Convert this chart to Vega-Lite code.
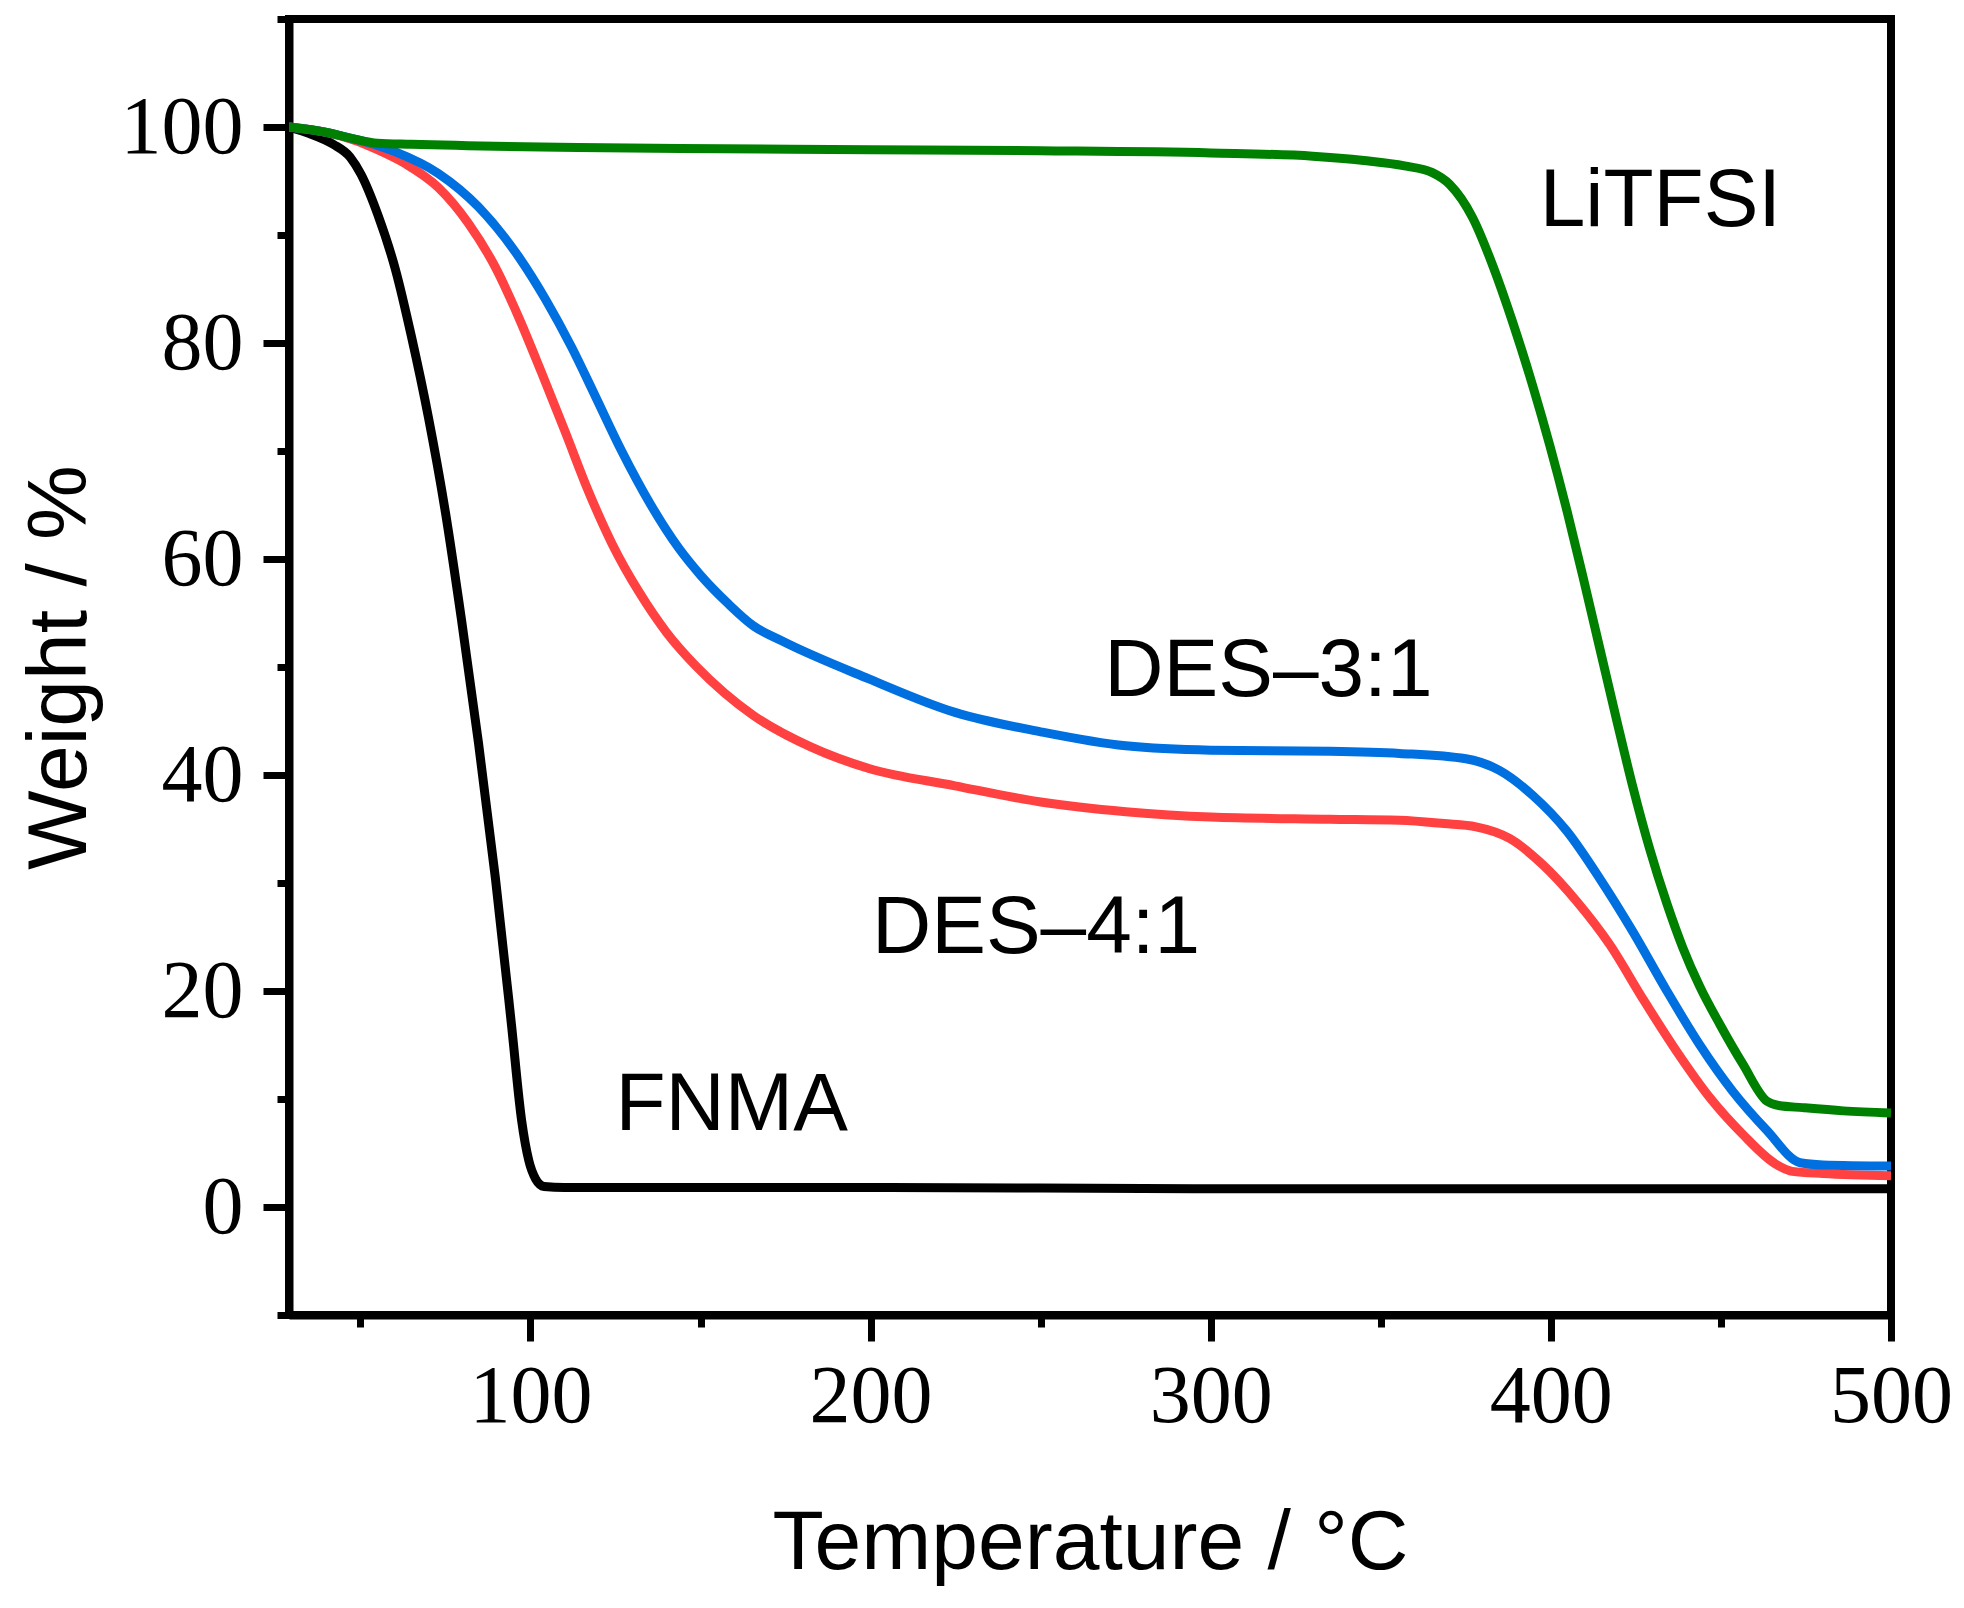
{
  "$schema": "https://vega.github.io/schema/vega-lite/v6.json",
  "width": 1602,
  "height": 1296,
  "autosize": {"type": "none"},
  "padding": {"left": 289, "top": 19, "right": 73, "bottom": 293},
  "background": "white",
  "config": {
    "view": {"stroke": "black", "strokeWidth": 8},
    "axis": {
      "grid": false,
      "domainColor": "black",
      "domainWidth": 8,
      "tickColor": "black",
      "tickWidth": 7,
      "labelFont": "Liberation Serif",
      "labelFontSize": 82,
      "labelColor": "black",
      "titleFont": "Liberation Sans",
      "titleFontSize": 84,
      "titleFontWeight": "normal",
      "titleColor": "black"
    }
  },
  "datasets": {
    "curves": [
      {"series": "FNMA", "T": 29, "W": 100},
      {"series": "FNMA", "T": 35, "W": 99.4},
      {"series": "FNMA", "T": 42, "W": 98.4},
      {"series": "FNMA", "T": 47, "W": 97.2},
      {"series": "FNMA", "T": 50.2, "W": 95.6},
      {"series": "FNMA", "T": 55.2, "W": 91.8},
      {"series": "FNMA", "T": 60.3, "W": 86.8},
      {"series": "FNMA", "T": 65, "W": 80.6},
      {"series": "FNMA", "T": 70, "W": 73.1},
      {"series": "FNMA", "T": 75, "W": 64.3},
      {"series": "FNMA", "T": 79.7, "W": 54.4},
      {"series": "FNMA", "T": 84.7, "W": 43.0},
      {"series": "FNMA", "T": 89.7, "W": 30.4},
      {"series": "FNMA", "T": 94.4, "W": 16.9},
      {"series": "FNMA", "T": 97.4, "W": 8.0},
      {"series": "FNMA", "T": 99.5, "W": 4.3},
      {"series": "FNMA", "T": 101.5, "W": 2.6},
      {"series": "FNMA", "T": 104, "W": 1.9},
      {"series": "FNMA", "T": 110, "W": 1.8},
      {"series": "FNMA", "T": 200, "W": 1.8},
      {"series": "FNMA", "T": 300, "W": 1.7},
      {"series": "FNMA", "T": 400, "W": 1.7},
      {"series": "FNMA", "T": 500, "W": 1.7},

      {"series": "DES-4:1", "T": 29, "W": 100},
      {"series": "DES-4:1", "T": 40, "W": 99.5},
      {"series": "DES-4:1", "T": 48, "W": 98.8},
      {"series": "DES-4:1", "T": 55, "W": 97.9},
      {"series": "DES-4:1", "T": 63.2, "W": 96.6},
      {"series": "DES-4:1", "T": 72.9, "W": 94.4},
      {"series": "DES-4:1", "T": 81.7, "W": 91.1},
      {"series": "DES-4:1", "T": 89.7, "W": 87},
      {"series": "DES-4:1", "T": 96.5, "W": 82.4},
      {"series": "DES-4:1", "T": 103.2, "W": 77.3},
      {"series": "DES-4:1", "T": 110.3, "W": 71.7},
      {"series": "DES-4:1", "T": 117, "W": 66.3},
      {"series": "DES-4:1", "T": 124, "W": 61.4},
      {"series": "DES-4:1", "T": 132, "W": 56.9},
      {"series": "DES-4:1", "T": 140, "W": 53.2},
      {"series": "DES-4:1", "T": 148.6, "W": 50.1},
      {"series": "DES-4:1", "T": 157, "W": 47.6},
      {"series": "DES-4:1", "T": 165.6, "W": 45.5},
      {"series": "DES-4:1", "T": 182.4, "W": 42.6},
      {"series": "DES-4:1", "T": 199.5, "W": 40.6},
      {"series": "DES-4:1", "T": 224.8, "W": 39},
      {"series": "DES-4:1", "T": 250, "W": 37.5},
      {"series": "DES-4:1", "T": 275, "W": 36.6},
      {"series": "DES-4:1", "T": 300, "W": 36.1},
      {"series": "DES-4:1", "T": 335, "W": 35.9},
      {"series": "DES-4:1", "T": 355.5, "W": 35.8},
      {"series": "DES-4:1", "T": 368.5, "W": 35.5},
      {"series": "DES-4:1", "T": 378, "W": 35.2},
      {"series": "DES-4:1", "T": 388, "W": 34.1},
      {"series": "DES-4:1", "T": 397.6, "W": 31.7},
      {"series": "DES-4:1", "T": 407.6, "W": 28.3},
      {"series": "DES-4:1", "T": 417.3, "W": 24.3},
      {"series": "DES-4:1", "T": 427, "W": 19.3},
      {"series": "DES-4:1", "T": 437, "W": 14.4},
      {"series": "DES-4:1", "T": 446.8, "W": 10.1},
      {"series": "DES-4:1", "T": 456.5, "W": 6.7},
      {"series": "DES-4:1", "T": 466, "W": 4.0},
      {"series": "DES-4:1", "T": 471, "W": 3.3},
      {"series": "DES-4:1", "T": 480, "W": 3.1},
      {"series": "DES-4:1", "T": 500, "W": 2.9},

      {"series": "DES-3:1", "T": 29, "W": 100},
      {"series": "DES-3:1", "T": 40, "W": 99.5},
      {"series": "DES-3:1", "T": 48, "W": 98.9},
      {"series": "DES-3:1", "T": 55, "W": 98.3},
      {"series": "DES-3:1", "T": 60.3, "W": 97.7},
      {"series": "DES-3:1", "T": 72.9, "W": 95.7},
      {"series": "DES-3:1", "T": 84.7, "W": 92.6},
      {"series": "DES-3:1", "T": 96.5, "W": 88},
      {"series": "DES-3:1", "T": 104.4, "W": 84.05},
      {"series": "DES-3:1", "T": 112.1, "W": 79.6},
      {"series": "DES-3:1", "T": 119.1, "W": 75.05},
      {"series": "DES-3:1", "T": 126.8, "W": 70.0},
      {"series": "DES-3:1", "T": 135.4, "W": 65.0},
      {"series": "DES-3:1", "T": 143.6, "W": 61.0},
      {"series": "DES-3:1", "T": 150, "W": 58.5},
      {"series": "DES-3:1", "T": 158, "W": 55.9},
      {"series": "DES-3:1", "T": 165.6, "W": 53.8},
      {"series": "DES-3:1", "T": 174, "W": 52.4},
      {"series": "DES-3:1", "T": 199.5, "W": 48.9},
      {"series": "DES-3:1", "T": 224.8, "W": 45.8},
      {"series": "DES-3:1", "T": 250, "W": 44},
      {"series": "DES-3:1", "T": 275, "W": 42.7},
      {"series": "DES-3:1", "T": 300, "W": 42.3},
      {"series": "DES-3:1", "T": 335, "W": 42.2},
      {"series": "DES-3:1", "T": 355.5, "W": 42},
      {"series": "DES-3:1", "T": 375, "W": 41.5},
      {"series": "DES-3:1", "T": 385, "W": 40.4},
      {"series": "DES-3:1", "T": 394.7, "W": 38.1},
      {"series": "DES-3:1", "T": 404.7, "W": 34.8},
      {"series": "DES-3:1", "T": 414.4, "W": 30.4},
      {"series": "DES-3:1", "T": 424.1, "W": 25.5},
      {"series": "DES-3:1", "T": 434.1, "W": 20},
      {"series": "DES-3:1", "T": 443.8, "W": 15},
      {"series": "DES-3:1", "T": 453.5, "W": 10.7},
      {"series": "DES-3:1", "T": 463.5, "W": 7.1},
      {"series": "DES-3:1", "T": 473.3, "W": 4.1},
      {"series": "DES-3:1", "T": 480, "W": 3.9},
      {"series": "DES-3:1", "T": 500, "W": 3.8},

      {"series": "LiTFSI", "T": 29, "W": 100},
      {"series": "LiTFSI", "T": 40, "W": 99.5},
      {"series": "LiTFSI", "T": 48, "W": 98.9},
      {"series": "LiTFSI", "T": 55, "W": 98.5},
      {"series": "LiTFSI", "T": 65, "W": 98.4},
      {"series": "LiTFSI", "T": 114, "W": 98.1},
      {"series": "LiTFSI", "T": 144, "W": 98},
      {"series": "LiTFSI", "T": 200, "W": 97.9},
      {"series": "LiTFSI", "T": 250, "W": 97.8},
      {"series": "LiTFSI", "T": 300, "W": 97.6},
      {"series": "LiTFSI", "T": 330, "W": 97.3},
      {"series": "LiTFSI", "T": 345, "W": 96.9},
      {"series": "LiTFSI", "T": 357, "W": 96.4},
      {"series": "LiTFSI", "T": 365, "W": 95.8},
      {"series": "LiTFSI", "T": 370.2, "W": 94.7},
      {"series": "LiTFSI", "T": 377, "W": 91.6},
      {"series": "LiTFSI", "T": 383, "W": 87.1},
      {"series": "LiTFSI", "T": 388.8, "W": 81.9},
      {"series": "LiTFSI", "T": 394.7, "W": 76.0},
      {"series": "LiTFSI", "T": 399.7, "W": 70.5},
      {"series": "LiTFSI", "T": 404.7, "W": 64.5},
      {"series": "LiTFSI", "T": 409.4, "W": 58.4},
      {"series": "LiTFSI", "T": 414.4, "W": 51.7},
      {"series": "LiTFSI", "T": 419.4, "W": 45.0},
      {"series": "LiTFSI", "T": 424.1, "W": 38.9},
      {"series": "LiTFSI", "T": 429.1, "W": 33.1},
      {"series": "LiTFSI", "T": 434.1, "W": 28.1},
      {"series": "LiTFSI", "T": 438.8, "W": 24.0},
      {"series": "LiTFSI", "T": 443.8, "W": 20.4},
      {"series": "LiTFSI", "T": 449.7, "W": 16.9},
      {"series": "LiTFSI", "T": 456.5, "W": 13.2},
      {"series": "LiTFSI", "T": 463.5, "W": 9.8},
      {"series": "LiTFSI", "T": 467, "W": 9.4},
      {"series": "LiTFSI", "T": 474, "W": 9.2},
      {"series": "LiTFSI", "T": 486, "W": 8.9},
      {"series": "LiTFSI", "T": 500, "W": 8.7}
    ],
    "labels": [
      {"label": "LiTFSI", "T": 396.7, "W": 90.8},
      {"label": "DES–3:1", "T": 268.7, "W": 47.3},
      {"label": "DES–4:1", "T": 200.4, "W": 23.5},
      {"label": "FNMA", "T": 125, "W": 7.1}
    ]
  },
  "layer": [
    {
      "data": {"name": "curves"},
      "mark": {"type": "line", "strokeWidth": 9, "interpolate": "monotone", "clip": true},
      "encoding": {
        "x": {
          "field": "T", "type": "quantitative",
          "scale": {"domain": [29, 500], "nice": false, "zero": false},
          "axis": {
            "values": [100, 200, 300, 400, 500],
            "tickSize": 26,
            "labelPadding": 80,
            "labelBaseline": "alphabetic",
            "labelFlush": false,
            "labelOverlap": false,
            "title": "Temperature / °C",
            "titleX": 801,
            "titleY": 253,
            "titleBaseline": "alphabetic"
          }
        },
        "y": {
          "field": "W", "type": "quantitative",
          "scale": {"domain": [-10, 110], "nice": false, "zero": false},
          "axis": {
            "values": [0, 20, 40, 60, 80, 100],
            "tickSize": 26,
            "labelPadding": 20,
            "labelFlush": false,
            "labelOverlap": false,
            "title": "Weight / %",
            "titleX": -204,
            "titleY": 648,
            "titleBaseline": "alphabetic"
          }
        },
        "color": {
          "field": "series", "type": "nominal",
          "scale": {"domain": ["FNMA", "DES-4:1", "DES-3:1", "LiTFSI"], "range": ["#000000", "#FF4141", "#0070E0", "#008000"]},
          "legend": null
        }
      }
    },
    {
      "data": {"name": "labels"},
      "mark": {"type": "text", "font": "Liberation Sans", "fontSize": 82, "align": "left", "baseline": "alphabetic", "color": "black"},
      "encoding": {
        "x": {
          "field": "T", "type": "quantitative",
          "scale": {"domain": [29, 500], "nice": false, "zero": false},
          "axis": {"orient": "bottom", "values": [50, 150, 250, 350, 450], "tickSize": 12, "labels": false, "domain": false, "title": null}
        },
        "y": {
          "field": "W", "type": "quantitative",
          "scale": {"domain": [-10, 110], "nice": false, "zero": false},
          "axis": {"orient": "left", "values": [-10, 10, 30, 50, 70, 90, 110], "tickSize": 12, "labels": false, "domain": false, "title": null}
        },
        "text": {"field": "label"}
      }
    }
  ],
  "resolve": {"axis": {"x": "independent", "y": "independent"}}
}
